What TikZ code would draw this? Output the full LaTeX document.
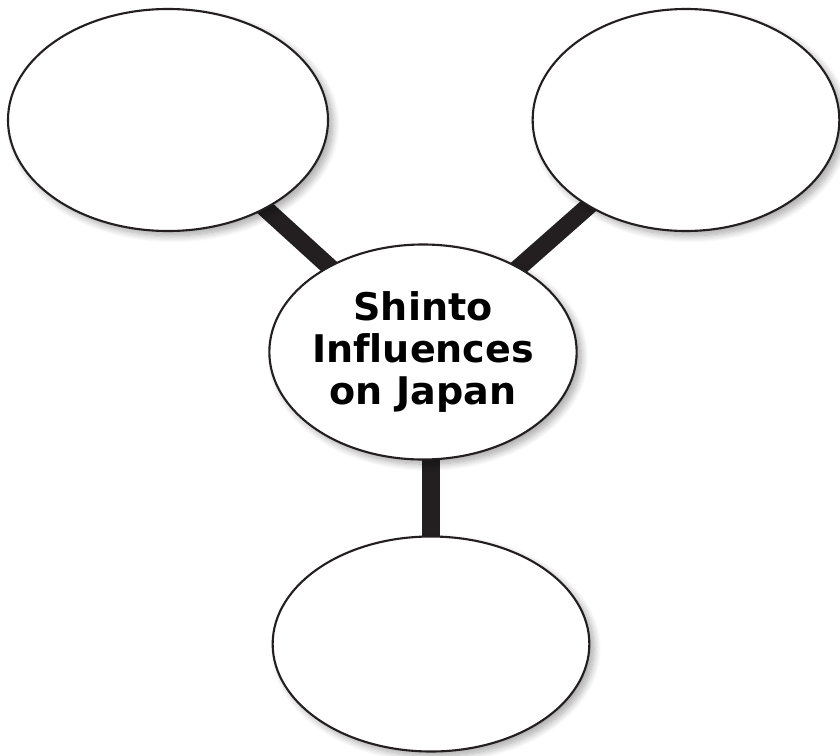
\documentclass[tikz,border=0pt]{standalone}
\usepackage{fontspec}
\setmainfont{DejaVu Sans}[Ligatures=NoCommon]
\usetikzlibrary{shapes.geometric,shadows.blur,backgrounds}
\definecolor{inkblack}{RGB}{35,31,32}

\begin{document}
\begin{tikzpicture}[x=0.03cm,y=-0.03cm,
    bubble/.style={ellipse, draw=inkblack, line width=1.8pt, fill=white, inner sep=0pt,
      blur shadow={shadow xshift=4pt, shadow yshift=-4pt, shadow blur radius=6pt,
        shadow blur steps=12, shadow opacity=35}},
    spoke/.style={draw=inkblack, line width=15pt}]
	%% page size
	\useasboundingbox (0,0) rectangle (840,755);

	% outer bubbles
	\node[bubble, minimum width=9.6cm, minimum height=6.66cm] (leftbub) at (168,120) {};
	\node[bubble, minimum width=9.2cm, minimum height=6.66cm] (rightbub) at (686,120) {};
	\node[bubble, minimum width=9.5cm, minimum height=6.45cm] (lowbub) at (431,644) {};

	% centre bubble
	\node[bubble, minimum width=9.2cm, minimum height=6.45cm, inner xsep=-2pt, align=center,
	      font=\bfseries\fontsize{32.5}{36}\selectfont] (hub) at (423,352)
	      {Shinto\\Influences\\on Japan};

	% spokes behind the bubbles
	\begin{scope}[on background layer]
		\draw[spoke] (leftbub.center) -- (hub.center);
		\draw[spoke] (rightbub.center) -- (hub.center);
		\draw[spoke] (lowbub.center) -- (lowbub.center |- hub.center);
	\end{scope}
\end{tikzpicture}
\end{document}
